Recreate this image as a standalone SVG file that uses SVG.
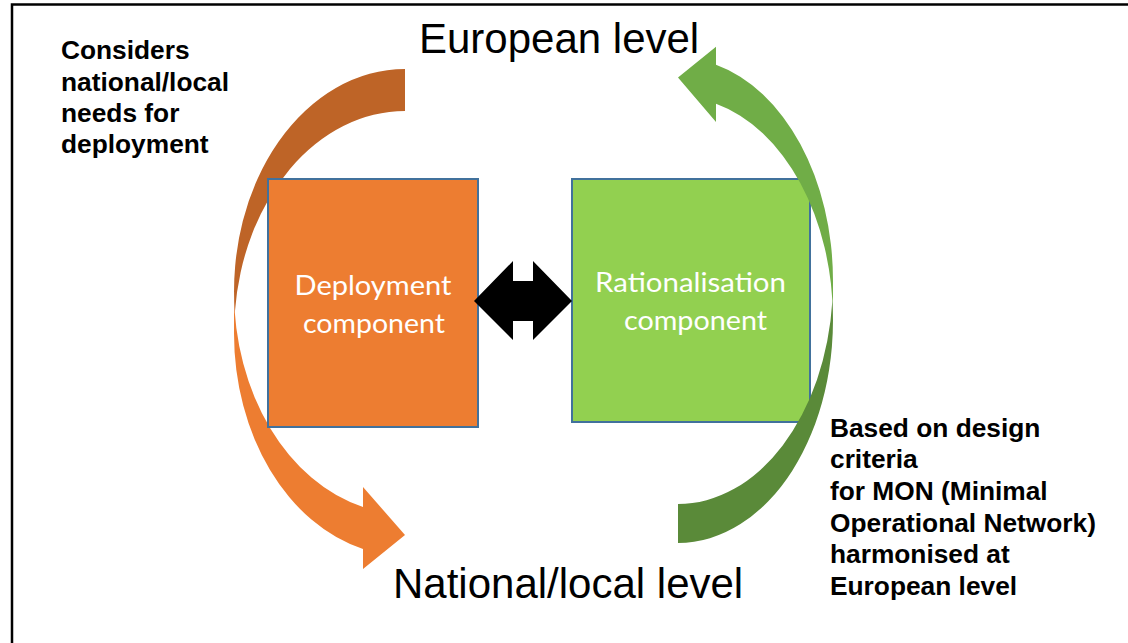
<svg xmlns="http://www.w3.org/2000/svg" width="1128" height="643" viewBox="0 0 1128 643">
<style>
.lbl{font-family:"Liberation Sans",Arial,sans-serif;fill:#000}
.big{font-size:42px}
.note{font-size:26.3px;font-weight:bold}
.box{stroke:#41719C;stroke-width:2}
.boxtxt{font-family:Lato,"Open Sans",sans-serif;font-size:27px;fill:#fff;text-anchor:middle}
</style>
<defs>
<mask id="behindDeploy" maskUnits="userSpaceOnUse" x="0" y="0" width="1128" height="643">
<rect x="0" y="0" width="1128" height="643" fill="#fff"/>
<rect x="267" y="178" width="212" height="250" fill="#000"/>
</mask>
</defs>
<rect x="0" y="0" width="1128" height="643" fill="#fff"/>
<rect x="12" y="4.5" width="1200" height="700" fill="none" stroke="#000" stroke-width="2.5"/>

<g id="deployment">
<rect class="box" x="268" y="179" width="210" height="248" fill="#ED7D31"/>
<text class="boxtxt" x="373" y="295" textLength="157" lengthAdjust="spacingAndGlyphs">Deployment</text>
<text class="boxtxt" x="374" y="333" textLength="142" lengthAdjust="spacingAndGlyphs">component</text>
</g>
<g id="rationalisation">
<rect class="box" x="572" y="179" width="238" height="243" fill="#92D050"/>
<text class="boxtxt" x="690.5" y="292" textLength="191" lengthAdjust="spacingAndGlyphs">Rationalisation</text>
<text class="boxtxt" x="695.5" y="330" textLength="143" lengthAdjust="spacingAndGlyphs">component</text>
</g>

<g id="connectors">
<g id="arrow-down-national" mask="url(#behindDeploy)">
<path fill="#ED7D31" d="M 234 291.4 A 171 222.4 0 0 0 363 507 L 363 487 L 405 535 L 363 569 L 363 549 A 171 222.4 0 0 1 234 333.4 Z"/>
<path fill="#BE6427" d="M 405 111 A 171 222.4 0 0 0 234.8 312.4 A 171 222.4 0 0 1 405 69 Z"/>
</g>
<g id="arrow-up-european">
<path fill="#70AD47" d="M 833 320 A 155 223 0 0 0 716 103.8 L 716 122 L 678 77.5 L 716 46.8 L 716 64.8 A 155 223 0 0 1 833 281 Z"/>
<path fill="#5A8A39" d="M 678 504 A 155 223 0 0 0 832.4 300.5 A 155 223 0 0 1 678 543 Z"/>
</g>
<polygon id="link-both" fill="#000" points="474,301 513,261 513,281 533,281 533,261 572,301 533,340 533,321 513,321 513,340"/>
</g>

<g id="european-level">
<text class="lbl big" x="419" y="53">European level</text>
</g>
<g id="national-level">
<text class="lbl big" x="393" y="598">National/local level</text>
</g>
<g id="note-left">
<text class="lbl note" x="61" y="59">Considers</text>
<text class="lbl note" x="61" y="91">national/local</text>
<text class="lbl note" x="61" y="122">needs for</text>
<text class="lbl note" x="61" y="153">deployment</text>
</g>
<g id="note-right">
<text class="lbl note" x="830" y="437">Based on design</text>
<text class="lbl note" x="830" y="468">criteria</text>
<text class="lbl note" x="830" y="500">for MON (Minimal</text>
<text class="lbl note" x="830" y="532">Operational Network)</text>
<text class="lbl note" x="830" y="563">harmonised at</text>
<text class="lbl note" x="830" y="595">European level</text>
</g>
</svg>
